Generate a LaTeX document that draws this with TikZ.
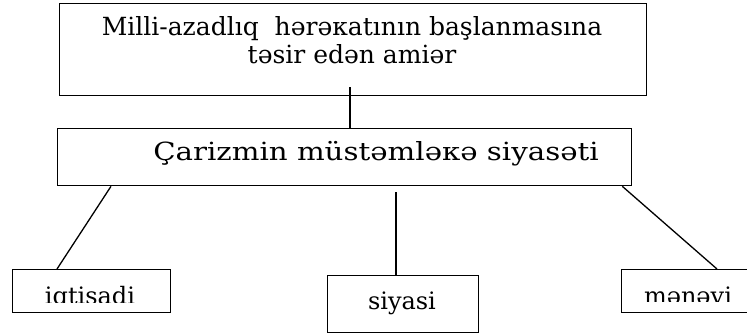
\documentclass[tikz,border=0pt]{standalone}
\usepackage{fontspec}
\setmainfont{DejaVu Serif}
\newfontfamily\widefont[FakeStretch=1.17]{DejaVu Serif}
\usetikzlibrary{positioning}

\begin{document}
\begin{tikzpicture}[x=1pt, y=-1pt, line width=1.3pt, font=\fontsize{25}{28}\selectfont,
  box/.style={draw, rectangle, inner sep=0pt, anchor=north west},
  lbl/.style={anchor=base, inner sep=0pt},
  small/.style={font=\fontsize{24}{28}\selectfont}]
\useasboundingbox (0,0) rectangle (747,333);

\node(cause)[box, minimum width=587pt, minimum height=92pt] at (59,3) {};
\node(causetxt)[lbl] at (352,35) {Milli-azadlıq~ hərəкatının başlanmasına};
\node(causetxtb)[lbl] at (352,63) {təsir edən amiər};

\node(tsar)[box, minimum width=574pt, minimum height=57pt] at (57,128) {};
\node(tsartxt)[lbl, font=\widefont\fontsize{25}{28}\selectfont] at (376,160) {Çarizmin müstəmləкə siyasəti};

\node(econ)[box, minimum width=158pt, minimum height=43pt] at (12,269) {};
\node(polit)[box, minimum width=151pt, minimum height=57pt] at (327,275) {};
\node(moral)[box, minimum width=130pt, minimum height=43pt] at (621,269) {};

% texts that the boxes cut off at the bottom
\begin{scope}
\clip (14,271) rectangle (168,302);
\node(econtxt)[lbl, small] at (90,304) {iqtisadi};
\end{scope}
\node(polittxt)[lbl, small] at (402,309) {siyasi};
\begin{scope}
\clip (623,271) rectangle (745,301);
\node(moraltxt)[lbl, small] at (688,304) {mənəvi};
\end{scope}

\coordinate(join) at (350,87);
\coordinate(gap) at (396,192);
\draw (join) -- (join |- tsar.north);
\draw ([xshift=54pt]tsar.south west) -- ([xshift=45pt]econ.north west);
\draw (gap) -- (gap |- polit.north);
\draw ([xshift=-10pt]tsar.south east) -- ([xshift=96pt]moral.north west);

\end{tikzpicture}
\end{document}
